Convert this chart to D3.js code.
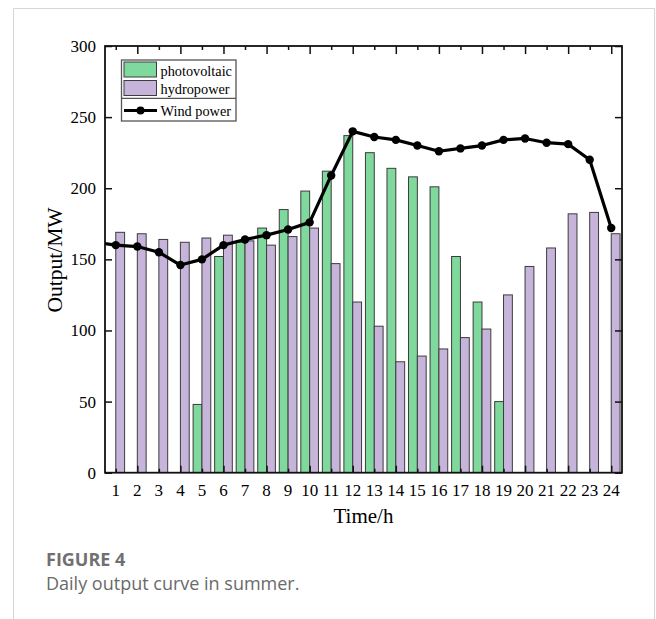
<!DOCTYPE html>
<html>
<head>
<meta charset="utf-8">
<script src="https://cdn.jsdelivr.net/npm/d3@7"></script>
<style>
  html, body { margin: 0; padding: 0; background: #fff; }
  svg { display: block; }
</style>
</head>
<body>
<svg id="chart" width="656" height="619"></svg>
<script>
// Hourly output in summer (MW)
const hours = d3.range(1, 25);
const photovoltaic = [0, 0, 0, 0, 48, 152, 162, 172, 185, 198, 212, 237,
                      225, 214, 208, 201, 152, 120, 50, 0, 0, 0, 0, 0];
const hydropower   = [169, 168, 164, 162, 165, 167, 163, 160, 166, 172, 147, 120,
                      103, 78, 82, 87, 95, 101, 125, 145, 158, 182, 183, 168];
// Wind power is given from hour 0 to hour 24
const windHours = d3.range(0, 25);
const windPower = [162, 160, 159, 155, 146, 150, 160, 164, 167, 171, 176, 209, 240,
                   236, 234, 230, 226, 228, 230, 234, 235, 232, 231, 220, 172];
const yTicks = [0, 50, 100, 150, 200, 250, 300];
const legendItems = ["photovoltaic", "hydropower", "Wind power"];

const colors = { pv: "#7fd99c", hydro: "#c7b4da", stroke: "#3c3c3c" };
const serif = "'Liberation Serif', 'Times New Roman', serif";
const sans = "'Open Sans', 'Noto Sans', sans-serif";

const svg = d3.select("#chart");

// card frame
svg.append("path")
  .attr("d", "M13.5,619 V8.5 H654.5 V619")
  .attr("fill", "none").attr("stroke", "#d6d6d6").attr("stroke-width", 1);

const L = 105, R = 622, T = 46, B = 472.7;
const x = d3.scaleLinear().domain([0.5, 24.5]).range([L, R]);
const y = d3.scaleLinear().domain([0, 300]).range([B, T]);
const step = x(2) - x(1);
const bw = step * 0.41;

svg.append("defs").append("clipPath").attr("id", "plotClip")
  .append("rect").attr("x", L).attr("y", T - 10).attr("width", R - L).attr("height", B - T + 10);

const plot = svg.append("g").attr("clip-path", "url(#plotClip)");

// photovoltaic bars (left of each hour)
plot.selectAll("rect.pv")
  .data(hours.map((h, i) => ({ h, v: photovoltaic[i] })).filter(d => d.v > 0))
  .join("rect").attr("class", "pv")
  .attr("x", d => x(d.h) - bw).attr("width", bw)
  .attr("y", d => y(d.v)).attr("height", d => y(0) - y(d.v))
  .attr("fill", colors.pv).attr("stroke", colors.stroke).attr("stroke-width", 1);

// hydropower bars (right of each hour)
plot.selectAll("rect.hy")
  .data(hours.map((h, i) => ({ h, v: hydropower[i] })))
  .join("rect").attr("class", "hy")
  .attr("x", d => x(d.h)).attr("width", bw)
  .attr("y", d => y(d.v)).attr("height", d => y(0) - y(d.v))
  .attr("fill", colors.hydro).attr("stroke", colors.stroke).attr("stroke-width", 1);

// wind power line
const windData = windHours.map((h, i) => ({ h, v: windPower[i] }));
plot.append("path")
  .datum(windData)
  .attr("d", d3.line().x(d => x(d.h)).y(d => y(d.v)))
  .attr("fill", "none").attr("stroke", "#000").attr("stroke-width", 3.2)
  .attr("stroke-linejoin", "round");
plot.selectAll("circle.wind")
  .data(windData.filter(d => d.h >= 1))
  .join("circle").attr("class", "wind")
  .attr("cx", d => x(d.h)).attr("cy", d => y(d.v)).attr("r", 4.2)
  .attr("fill", "#000");

// axes: inward ticks on all four sides
const axisColor = "#111";
const fmtNone = () => "";

const gLeft = svg.append("g").attr("transform", `translate(${L},0)`)
  .call(d3.axisRight(y).tickValues(yTicks).tickSize(7).tickFormat(fmtNone));
const gRight = svg.append("g").attr("transform", `translate(${R},0)`)
  .call(d3.axisLeft(y).tickValues(yTicks).tickSize(7).tickFormat(fmtNone));
const gBottom = svg.append("g").attr("transform", `translate(0,${B})`)
  .call(d3.axisTop(x).tickValues(hours).tickSize(4).tickFormat(fmtNone));
const gTop = svg.append("g").attr("transform", `translate(0,${T})`)
  .call(d3.axisBottom(x).tickValues(hours).tickSize(4).tickFormat(fmtNone));

[gLeft, gRight, gBottom, gTop].forEach(g => {
  g.select(".domain").remove();
  g.selectAll(".tick line").attr("stroke", axisColor).attr("stroke-width", 1.5);
});
// longer ticks on even hours
gBottom.selectAll(".tick line").attr("y2", d => d % 2 === 0 ? -7 : -4);
gTop.selectAll(".tick line").attr("y2", d => d % 2 === 0 ? 8 : 4);

// frame
svg.append("rect")
  .attr("x", L).attr("y", T).attr("width", R - L).attr("height", B - T)
  .attr("fill", "none").attr("stroke", axisColor).attr("stroke-width", 1.8);

// tick labels
svg.append("g").selectAll("text")
  .data(yTicks).join("text")
  .attr("x", L - 9).attr("y", d => y(d) + 6)
  .attr("text-anchor", "end")
  .attr("font-family", serif).attr("font-size", 17).attr("fill", "#000")
  .text(d => d);

svg.append("g").selectAll("text")
  .data(hours).join("text")
  .attr("x", d => x(d)).attr("y", B + 23)
  .attr("text-anchor", "middle")
  .attr("font-family", serif).attr("font-size", 17).attr("fill", "#000")
  .text(d => d);

// axis titles
svg.append("text")
  .attr("transform", "translate(62,260) rotate(-90)")
  .attr("text-anchor", "middle")
  .attr("font-family", serif).attr("font-size", 21.5).attr("fill", "#000")
  .text("Output/MW");
svg.append("text")
  .attr("x", (L + R) / 2).attr("y", 522.7)
  .attr("text-anchor", "middle")
  .attr("font-family", serif).attr("font-size", 21).attr("fill", "#000")
  .text("Time/h");

// legend
const lg = svg.append("g");
const lx = 121.5, ly = 60, lw = 114.5, lh = 61, ldiv = 98.3;
lg.append("rect").attr("x", lx).attr("y", ly).attr("width", lw).attr("height", lh)
  .attr("fill", "#fff").attr("stroke", "#555").attr("stroke-width", 1.3);
lg.append("line").attr("x1", lx).attr("x2", lx + lw).attr("y1", ldiv).attr("y2", ldiv)
  .attr("stroke", "#555").attr("stroke-width", 1.3);
lg.append("rect").attr("x", 124).attr("y", 62).attr("width", 32.5).attr("height", 15)
  .attr("fill", colors.pv).attr("stroke", colors.stroke).attr("stroke-width", 1);
lg.append("rect").attr("x", 124).attr("y", 80.5).attr("width", 32.5).attr("height", 15)
  .attr("fill", colors.hydro).attr("stroke", colors.stroke).attr("stroke-width", 1);
lg.append("line").attr("x1", 124).attr("x2", 157).attr("y1", 110.5).attr("y2", 110.5)
  .attr("stroke", "#000").attr("stroke-width", 3);
lg.append("circle").attr("cx", 140.5).attr("cy", 110.5).attr("r", 4).attr("fill", "#000");
lg.selectAll("text.item").data(legendItems).join("text").attr("class", "item")
  .attr("x", 160.5).attr("y", (d, i) => [75.5, 94, 115.5][i])
  .attr("font-family", serif).attr("font-size", 14.3).attr("fill", "#000")
  .text(d => d);

// caption
svg.append("text")
  .attr("x", 46).attr("y", 566)
  .attr("font-family", sans).attr("font-size", 18)
  .attr("font-weight", 700).attr("fill", "#707070")
  .text("FIGURE 4");
svg.append("text")
  .attr("x", 46).attr("y", 590)
  .attr("font-family", sans).attr("font-size", 18)
  .attr("fill", "#6a6a6a")
  .text("Daily output curve in summer.");
</script>
</body>
</html>
